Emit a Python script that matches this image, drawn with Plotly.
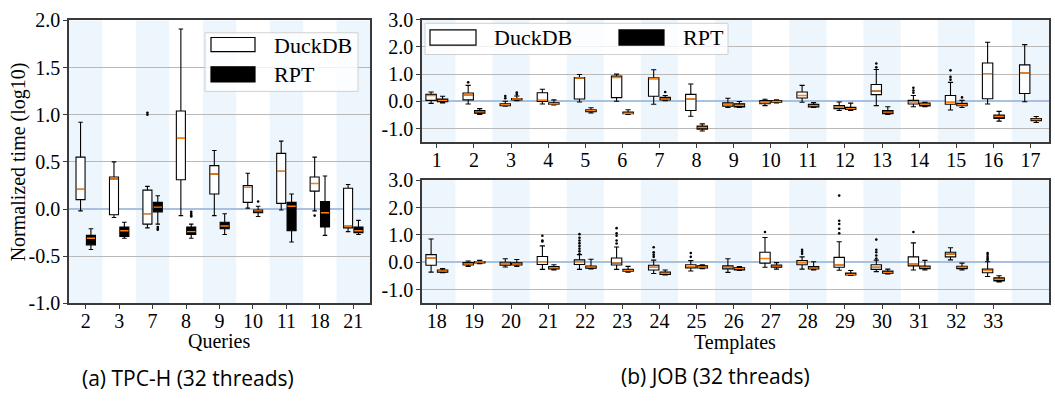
import plotly.graph_objects as go

W, H = 1055, 407

# ---------------- DATA ----------------
queries = ['2', '3', '7', '8', '9', '10', '11', '18', '21']
tpch_duck_lo  = [-0.02, -0.09, -0.20, -0.07, -0.07, 0.01, -0.01, -0.02, -0.24]
tpch_duck_q1  = [0.10, -0.06, -0.16, 0.31, 0.16, 0.07, 0.06, 0.19, -0.20]
tpch_duck_med = [0.21, 0.32, -0.05, 0.75, 0.37, 0.23, 0.40, 0.27, -0.18]
tpch_duck_q3  = [0.55, 0.34, 0.20, 1.04, 0.46, 0.25, 0.59, 0.34, 0.22]
tpch_duck_hi  = [0.92, 0.50, 0.24, 1.91, 0.62, 0.38, 0.72, 0.55, 0.26]
tpch_duck_out_cat = [2, 2, 7]
tpch_duck_out_val = [1.00, 1.02, -0.07]

tpch_rpt_lo  = [-0.43, -0.31, -0.16, -0.31, -0.27, -0.08, -0.35, -0.28, -0.27]
tpch_rpt_q1  = [-0.38, -0.29, -0.03, -0.27, -0.21, -0.04, -0.23, -0.19, -0.25]
tpch_rpt_med = [-0.31, -0.23, 0.02, -0.24, -0.18, -0.02, 0.03, -0.04, -0.23]
tpch_rpt_q3  = [-0.28, -0.19, 0.07, -0.19, -0.14, -0.01, 0.07, 0.08, -0.19]
tpch_rpt_hi  = [-0.21, -0.14, 0.14, -0.16, -0.05, 0.03, 0.16, 0.35, -0.12]
tpch_rpt_out_cat = [2, 2, 2, 3, 3, 3, 3, 5]
tpch_rpt_out_val = [-0.19, -0.21, -0.22, -0.03, -0.05, -0.07, -0.08, 0.08]

job_top = [str(i) for i in range(1, 18)]
jt_duck_lo  = [-0.07, -0.09, -0.17, -0.09, -0.02, 0.01, -0.10, -0.54, -0.22, -0.15, -0.03, -0.33, -0.15, -0.19, -0.31, -0.09, -0.01]
jt_duck_q1  = [0.04, 0.06, -0.15, 0.00, 0.09, 0.14, 0.19, -0.33, -0.17, -0.08, 0.13, -0.26, 0.25, -0.09, -0.10, 0.10, 0.29]
jt_duck_med = [0.22, 0.24, -0.12, 0.04, 0.86, 0.88, 0.84, 0.09, -0.10, -0.02, 0.22, -0.21, 0.38, -0.01, -0.03, 1.02, 1.04]
jt_duck_q3  = [0.26, 0.31, -0.08, 0.32, 0.88, 0.93, 0.87, 0.26, -0.05, 0.03, 0.35, -0.15, 0.62, 0.04, 0.22, 1.41, 1.34]
jt_duck_hi  = [0.35, 0.59, 0.01, 0.45, 0.99, 1.00, 1.16, 0.64, 0.12, 0.08, 0.59, -0.02, 1.17, 0.22, 0.70, 2.17, 2.08]
jt_duck_out_cat = [1, 2, 2, 12, 12, 13, 13, 13, 14, 14, 14]
jt_duck_out_val = [0.70, 0.12, 0.20, 1.25, 1.39, 0.32, 0.40, 0.50, 0.80, 0.90, 1.14]

jt_rpt_lo  = [-0.05, -0.47, 0.03, -0.13, -0.42, -0.47, 0.03, -1.08, -0.22, -0.05, -0.22, -0.33, -0.47, -0.19, -0.22, -0.72, -0.77]
jt_rpt_q1  = [-0.01, -0.43, 0.06, -0.10, -0.37, -0.45, 0.06, -1.01, -0.20, -0.03, -0.20, -0.29, -0.45, -0.16, -0.15, -0.62, -0.70]
jt_rpt_med = [0.04, -0.38, 0.09, -0.08, -0.33, -0.43, 0.09, -0.95, -0.14, 0.00, -0.15, -0.26, -0.39, -0.10, -0.12, -0.55, -0.66]
jt_rpt_q3  = [0.09, -0.33, 0.11, -0.05, -0.30, -0.39, 0.15, -0.90, -0.08, 0.03, -0.10, -0.21, -0.33, -0.06, -0.07, -0.50, -0.62]
jt_rpt_hi  = [0.19, -0.26, 0.20, 0.06, -0.23, -0.30, 0.22, -0.82, 0.00, 0.06, -0.04, -0.06, -0.19, -0.03, 0.04, -0.36, -0.55]
jt_rpt_out_cat = [2, 2, 6, 14]
jt_rpt_out_val = [0.26, 0.33, 0.35, 0.15]

job_bot = [str(i) for i in range(18, 34)]
jb_duck_lo  = [-0.36, -0.15, -0.17, -0.26, -0.26, -0.26, -0.41, -0.32, -0.37, -0.18, -0.25, -0.29, -0.34, -0.28, 0.09, -0.52]
jb_duck_q1  = [-0.11, -0.10, -0.11, -0.08, -0.08, -0.10, -0.28, -0.21, -0.24, -0.03, -0.09, -0.18, -0.26, -0.13, 0.20, -0.38]
jb_duck_med = [0.16, -0.06, -0.06, 0.02, 0.02, -0.03, -0.18, -0.16, -0.18, 0.14, -0.01, -0.10, -0.18, -0.06, 0.30, -0.30]
jb_duck_q3  = [0.28, -0.01, 0.00, 0.21, 0.09, 0.16, -0.11, -0.09, -0.13, 0.37, 0.06, 0.18, -0.09, 0.20, 0.37, -0.25]
jb_duck_hi  = [0.85, 0.05, 0.13, 0.60, 0.28, 0.56, 0.08, 0.06, 0.13, 0.91, 0.20, 0.75, 0.08, 0.71, 0.53, 0.02]
jb_duck_out_cat = [3, 3, 3,
                   4, 4, 4, 4, 4, 4, 4, 4,
                   5, 5, 5, 5, 5,
                   6, 6, 6, 6,
                   7, 7,
                   9,
                   10, 10, 10,
                   11, 11, 11, 11, 11,
                   12, 12, 12, 12, 12,
                   13,
                   15, 15, 15, 15, 15]
jb_duck_out_val = [0.76, 0.80, 0.97,
                   0.30, 0.40, 0.50, 0.60, 0.70, 0.80, 0.90, 1.03,
                   0.69, 0.80, 0.97, 1.06, 1.25,
                   0.20, 0.28, 0.37, 0.55,
                   0.20, 0.34,
                   1.11,
                   0.31, 0.39, 0.46,
                   1.06, 1.23, 1.40, 1.52, 2.44,
                   0.14, 0.25, 0.37, 0.46, 0.83,
                   1.11,
                   0.08, 0.14, 0.20, 0.28, 0.34]

jb_rpt_lo  = [-0.38, -0.05, -0.15, -0.28, -0.24, -0.36, -0.46, -0.23, -0.30, -0.25, -0.28, -0.48, -0.43, -0.28, -0.28, -0.72]
jb_rpt_q1  = [-0.36, -0.02, -0.10, -0.24, -0.22, -0.33, -0.44, -0.21, -0.28, -0.18, -0.24, -0.46, -0.40, -0.23, -0.23, -0.68]
jb_rpt_med = [-0.32, 0.01, -0.06, -0.20, -0.17, -0.30, -0.40, -0.17, -0.23, -0.14, -0.21, -0.44, -0.37, -0.18, -0.18, -0.62]
jb_rpt_q3  = [-0.28, 0.03, -0.02, -0.16, -0.14, -0.26, -0.36, -0.13, -0.20, -0.10, -0.16, -0.39, -0.32, -0.14, -0.15, -0.57]
jb_rpt_hi  = [-0.23, 0.07, 0.10, -0.09, 0.11, -0.15, -0.28, -0.09, -0.16, -0.01, 0.02, -0.30, -0.25, 0.07, -0.03, -0.49]

# ---------------- STYLE ----------------
SERIF = "Liberation Serif"
SANS = "Open Sans"
BAND = "#edf5fd"
GRID = "#b9b9b9"
ZERO = "#a9c1de"
FRAME = "#3a3a3a"
MED = "#ff7f0e"


def px(x):
    return x / W


def py(y):
    return 1 - y / H


fig = go.Figure()


def add_panel(xa, ya, duck, rpt, duck_out, rpt_out, bw, off):
    for st, fill, sgn, outs in ((duck, "white", -1, duck_out),
                                (rpt, "black", 1, rpt_out)):
        lo, q1, med, q3, hi = st
        pos = [i + sgn * off for i in range(len(med))]
        fig.add_trace(go.Box(
            x=pos, q1=q1, median=med, q3=q3, lowerfence=lo, upperfence=hi,
            width=bw, whiskerwidth=0.5, fillcolor=fill,
            line=dict(color="black", width=1.1), xaxis=xa, yaxis=ya,
            showlegend=False, hoverinfo="skip", boxpoints=False))
        mx, my = [], []
        for p, m in zip(pos, med):
            mx += [p - bw / 2 + 0.01, p + bw / 2 - 0.01, None]
            my += [m, m, None]
        fig.add_trace(go.Scatter(x=mx, y=my, mode="lines",
                                 line=dict(color=MED, width=1.4),
                                 xaxis=xa, yaxis=ya, showlegend=False,
                                 hoverinfo="skip"))
        if outs is not None and len(outs[0]):
            fig.add_trace(go.Scatter(
                x=[c + sgn * off for c in outs[0]], y=outs[1], mode="markers",
                marker=dict(color="black", size=2.6), xaxis=xa, yaxis=ya,
                showlegend=False, hoverinfo="skip"))


add_panel("x", "y",
          (tpch_duck_lo, tpch_duck_q1, tpch_duck_med, tpch_duck_q3, tpch_duck_hi),
          (tpch_rpt_lo, tpch_rpt_q1, tpch_rpt_med, tpch_rpt_q3, tpch_rpt_hi),
          (tpch_duck_out_cat, tpch_duck_out_val), (tpch_rpt_out_cat, tpch_rpt_out_val),
          0.27, 0.155)
add_panel("x2", "y2",
          (jt_duck_lo, jt_duck_q1, jt_duck_med, jt_duck_q3, jt_duck_hi),
          (jt_rpt_lo, jt_rpt_q1, jt_rpt_med, jt_rpt_q3, jt_rpt_hi),
          (jt_duck_out_cat, jt_duck_out_val), (jt_rpt_out_cat, jt_rpt_out_val),
          0.28, 0.155)
add_panel("x3", "y3",
          (jb_duck_lo, jb_duck_q1, jb_duck_med, jb_duck_q3, jb_duck_hi),
          (jb_rpt_lo, jb_rpt_q1, jb_rpt_med, jb_rpt_q3, jb_rpt_hi),
          (jb_duck_out_cat, jb_duck_out_val), None,
          0.28, 0.155)

shapes = []
# background bands
for xr, yr, nslots, xmin, xmax in (("x", "y", 9, -0.5, 8.5),
                                   ("x2", "y2", 17, -0.4, 16.5),
                                   ("x3", "y3", 17, -0.4, 16.5)):
    for i in range(0, nslots, 2):
        shapes.append(dict(type="rect", xref=xr, yref=yr + " domain",
                           x0=max(i - 0.5, xmin), x1=min(i + 0.5, xmax), y0=0, y1=1,
                           fillcolor=BAND, line=dict(width=0), layer="below"))

annotations = []


def legend_box(x0, y0, x1, y1):
    shapes.append(dict(type="rect", xref="paper", yref="paper",
                       x0=px(x0), x1=px(x1), y0=py(y1), y1=py(y0),
                       fillcolor="rgba(255,255,255,0.8)",
                       line=dict(color="#d0d0d0", width=1), layer="above"))


def legend_patch(x0, y0, x1, y1, fill):
    shapes.append(dict(type="rect", xref="paper", yref="paper",
                       x0=px(x0), x1=px(x1), y0=py(y1), y1=py(y0),
                       fillcolor=fill, line=dict(color="black", width=1.2), layer="above"))


def text(x, y, s, size, family=SERIF, xanchor="left", angle=0):
    annotations.append(dict(x=px(x), y=py(y), xref="paper", yref="paper", text=s,
                            showarrow=False, xanchor=xanchor, yanchor="middle",
                            textangle=angle,
                            font=dict(family=family, size=size, color="black")))


# legend (a)
legend_box(205, 23, 358, 85)
legend_patch(211, 28, 255, 43, "white")
legend_patch(211, 59, 255, 75, "black")
text(272, 36, "DuckDB", 22)
text(272, 67, "RPT", 22)
# legend (b)
legend_box(425, 13, 728, 46)
legend_patch(430, 20, 476, 36, "white")
legend_patch(619, 20, 664, 36, "black")
text(492, 28, "DuckDB", 22)
text(681, 28, "RPT", 22)

# titles
text(18, 160, "Normalized time (log10)", 20, xanchor="center", angle=-90)
text(219, 349, "Queries", 20, xanchor="center")
text(735, 350, "Templates", 20, xanchor="center")
text(188, 388, "(a) TPC-H (32 threads)", 21, family=SANS, xanchor="center")
text(715, 386, "(b) JOB (32 threads)", 21, family=SANS, xanchor="center")

tickfont = dict(family=SERIF, size=20, color="black")
common_x = dict(showgrid=False, zeroline=False, showline=True, mirror=True,
                linecolor=FRAME, linewidth=1.5, ticks="outside", ticklen=4,
                tickcolor=FRAME, tickfont=tickfont, fixedrange=True,
                ticklabelstandoff=-5)
common_y = dict(showgrid=True, gridcolor=GRID, gridwidth=1.2, zeroline=True,
                zerolinecolor=ZERO, zerolinewidth=2, showline=True, mirror=True,
                linecolor=FRAME, linewidth=1.5, ticks="outside", ticklen=4,
                tickcolor=FRAME, tickfont=tickfont, fixedrange=True,
                ticklabelstandoff=-1)

ya_vals = [-1.0, -0.5, 0.0, 0.5, 1.0, 1.5, 2.0]
yb_vals = [-1.0, 0.0, 1.0, 2.0, 3.0]

fig.update_layout(
    width=W, height=H, margin=dict(l=0, r=0, t=0, b=0),
    paper_bgcolor="white", plot_bgcolor="white", showlegend=False,
    font=dict(family=SERIF, size=20, color="black"),
    xaxis=dict(common_x, domain=[px(69), px(370)], range=[-0.5, 8.5],
               tickvals=list(range(len(queries))), ticktext=queries, anchor="y"),
    yaxis=dict(common_y, domain=[py(309), py(10)], range=[-1.0, 2.0],
               tickvals=ya_vals, ticktext=["%.1f" % v for v in ya_vals], anchor="x"),
    xaxis2=dict(common_x, domain=[px(422), px(1049)], range=[-0.4, 16.5],
                tickvals=list(range(len(job_top))), ticktext=job_top, anchor="y2"),
    yaxis2=dict(common_y, domain=[py(139), py(9)], range=[-1.5, 3.0],
                tickvals=yb_vals, ticktext=["%.1f" % v for v in yb_vals], anchor="x2"),
    xaxis3=dict(common_x, domain=[px(422), px(1049)], range=[-0.4, 16.5],
                tickvals=list(range(len(job_bot))), ticktext=job_bot, anchor="y3"),
    yaxis3=dict(common_y, domain=[py(309), py(179)], range=[-1.5, 3.0],
                tickvals=yb_vals, ticktext=["%.1f" % v for v in yb_vals], anchor="x3"),
    shapes=shapes, annotations=annotations,
)

fig.write_html("out.html")
